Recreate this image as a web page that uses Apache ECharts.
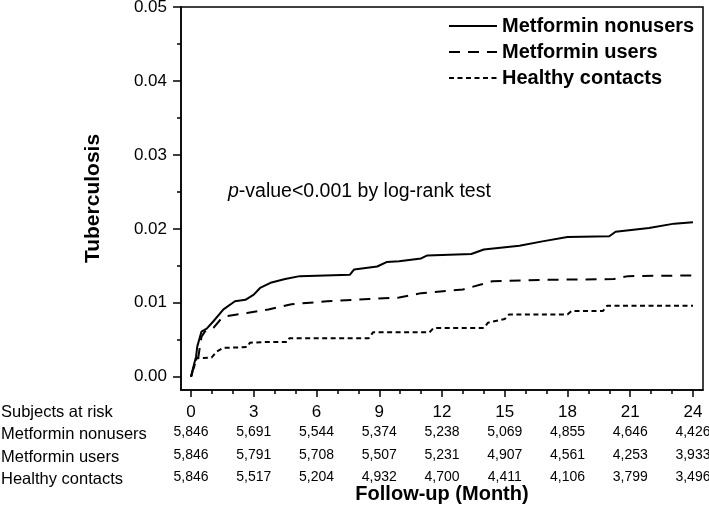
<!DOCTYPE html>
<html>
<head>
<meta charset="utf-8">
<script src="https://cdn.jsdelivr.net/npm/echarts@6/dist/echarts.min.js"></script>
<style>html,body{margin:0;padding:0;background:#fff}#c{width:709px;height:505px}</style>
</head>
<body>
<div id="c"></div>
<script>
// ---- data ----
const seriesNames = ['Metformin nonusers', 'Metformin users', 'Healthy contacts'];
const nonusersMonths = [0, 0.1, 0.24, 0.3, 0.5, 0.75, 1.07, 1.55, 2.1, 2.6, 3.0, 3.3, 3.8, 4.5, 5.2, 7.6, 7.8, 8.9, 9.35, 9.95, 11.0, 11.3, 13.4, 14.0, 15.7, 16.8, 18.0, 20.0, 20.3, 21.9, 23.1, 24.0];
const nonusersRisk   = [0, 0.0012, 0.0027, 0.0041, 0.0061, 0.0065, 0.0075, 0.0091, 0.0102, 0.0104, 0.0111, 0.0120, 0.0127, 0.0132, 0.0136, 0.0138, 0.0145, 0.0149, 0.0155, 0.0156, 0.0160, 0.0164, 0.0166, 0.0172, 0.0177, 0.0183, 0.0189, 0.0190, 0.0196, 0.0201, 0.0207, 0.0209];
const usersMonths = [0, 0.1, 0.35, 0.5, 0.66, 1.07, 1.4, 1.7, 2.67, 3.7, 4.8, 6.5, 8.5, 9.95, 11.0, 13.0, 13.9, 14.4, 16.8, 20.2, 20.9, 24.0];
const usersRisk   = [0, 0.0010, 0.0027, 0.0054, 0.0061, 0.0066, 0.0077, 0.0082, 0.0086, 0.0091, 0.0098, 0.0102, 0.0105, 0.0107, 0.0113, 0.0118, 0.0125, 0.0129, 0.0131, 0.0132, 0.0136, 0.0137];
const healthyMonths = [0, 0.27, 0.99, 1.23, 1.55, 2.67, 2.82, 3.7, 4.6, 4.7, 8.5, 8.7, 11.4, 11.6, 14.0, 14.2, 15.0, 15.2, 18.0, 18.2, 19.7, 19.9, 24.0];
const healthyRisk   = [0, 0.0025, 0.0026, 0.0034, 0.0039, 0.0040, 0.0046, 0.0047, 0.0047, 0.0052, 0.0052, 0.0060, 0.0060, 0.0066, 0.0066, 0.0073, 0.0078, 0.0084, 0.0084, 0.0089, 0.0089, 0.0096, 0.0096];

const tickMonths = [0, 3, 6, 9, 12, 15, 18, 21, 24];
const minorMonths = [0,1,2,3,4,5,6,7,8,9,10,11,12,13,14,15,16,17,18,19,20,21,22,23,24];
const yTicks = [0, 0.01, 0.02, 0.03, 0.04, 0.05];
const yMinorTicks = [0.005, 0.015, 0.025, 0.035, 0.045];
const atRiskNonusers = [5846, 5691, 5544, 5374, 5238, 5069, 4855, 4646, 4426];
const atRiskUsers    = [5846, 5791, 5708, 5507, 5231, 4907, 4561, 4253, 3933];
const atRiskHealthy  = [5846, 5517, 5204, 4932, 4700, 4411, 4106, 3799, 3496];
const rowLabels = ['Subjects at risk', 'Metformin nonusers', 'Metformin users', 'Healthy contacts'];

// ---- chart ----
const FONT = '"Liberation Sans", Arial, sans-serif';
const zip = (a, b) => a.map((v, i) => [v, b[i]]);
const fmt = n => n.toLocaleString('en-US');
const X_MIN = -0.48, X_MAX = 24.48;

function riskAxis(arr, margin) {
  return {
    type: 'value', min: X_MIN, max: X_MAX, position: 'bottom', gridIndex: 0,
    axisLine: { show: false }, axisTick: { show: false }, splitLine: { show: false },
    axisLabel: {
      customValues: tickMonths, margin: margin, color: '#000', fontFamily: FONT, fontSize: 14,
      formatter: v => { const i = tickMonths.indexOf(Math.round(v)); return i >= 0 ? fmt(arr[i]) : ''; }
    }
  };
}

const chart = echarts.init(document.getElementById('c'), null, { renderer: 'canvas' });
chart.setOption({
  animation: false,
  backgroundColor: '#fff',
  grid: { left: 181, right: 6, top: 7, bottom: 115, containLabel: false, outerBoundsMode: 'none',
          show: true, borderColor: '#000', borderWidth: 1.5, backgroundColor: 'transparent' },
  legend: {
    data: seriesNames, orient: 'vertical', left: 443, top: 11, itemWidth: 48, itemHeight: 14, itemGap: 6,
    textStyle: { fontFamily: FONT, fontSize: 20, fontWeight: 'bold', color: '#000' },
    itemStyle: { opacity: 0 }
  },
  xAxis: [
    {
      type: 'value', min: X_MIN, max: X_MAX, position: 'bottom',
      axisLine: { show: true, onZero: false, lineStyle: { color: '#000', width: 1.5 } },
      axisTick: { show: true, customValues: tickMonths, length: 7, lineStyle: { color: '#000', width: 1.5 } },
      axisLabel: { customValues: tickMonths, margin: 14, color: '#000', fontFamily: FONT, fontSize: 17 },
      splitLine: { show: false },
      name: 'Follow-up (Month)', nameLocation: 'middle', nameGap: 94,
      nameTextStyle: { fontFamily: FONT, fontSize: 20, fontWeight: 'bold', color: '#000' }
    },
    {
      type: 'value', min: X_MIN, max: X_MAX, position: 'bottom',
      axisLine: { show: false, onZero: false },
      axisTick: { show: true, customValues: minorMonths, length: 4, lineStyle: { color: '#000', width: 1.5 } },
      axisLabel: { show: false }, splitLine: { show: false }
    },
    riskAxis(atRiskNonusers, 35),
    riskAxis(atRiskUsers, 58),
    riskAxis(atRiskHealthy, 80)
  ],
  yAxis: [
    {
      type: 'value', min: -0.0018, max: 0.05, position: 'left',
      axisLine: { show: true, onZero: false, lineStyle: { color: '#000', width: 1.5 } },
      axisTick: { show: true, customValues: yTicks, length: 8, lineStyle: { color: '#000', width: 1.5 } },
      axisLabel: { customValues: yTicks, margin: 14, color: '#000', fontFamily: FONT, fontSize: 17, formatter: v => v.toFixed(2) },
      splitLine: { show: false },
      name: 'Tuberculosis', nameLocation: 'middle', nameGap: 77, nameRotate: 90,
      nameTextStyle: { fontFamily: FONT, fontSize: 21, fontWeight: 'bold', color: '#000' }
    },
    {
      type: 'value', min: -0.0018, max: 0.05, position: 'left',
      axisLine: { show: false, onZero: false },
      axisTick: { show: true, customValues: yMinorTicks, length: 4, lineStyle: { color: '#000', width: 1.5 } },
      axisLabel: { show: false }, splitLine: { show: false }
    }
  ],
  series: [
    { name: seriesNames[0], type: 'line', data: zip(nonusersMonths, nonusersRisk), showSymbol: false, symbol: 'none',
      lineStyle: { color: '#000', width: 2, type: 'solid' }, itemStyle: { color: '#000' } },
    { name: seriesNames[1], type: 'line', data: zip(usersMonths, usersRisk), showSymbol: false, symbol: 'none',
      lineStyle: { color: '#000', width: 2, type: [11, 8] }, itemStyle: { color: '#000' } },
    { name: seriesNames[2], type: 'line', data: zip(healthyMonths, healthyRisk), showSymbol: false, symbol: 'none',
      lineStyle: { color: '#000', width: 2, type: [5, 3.5] }, itemStyle: { color: '#000' } }
  ],
  graphic: [
    { type: 'text', left: 228, top: 182, style: {
        text: '{i|p}-value<0.001 by log-rank test',
        font: '19.5px ' + FONT, fill: '#000',
        rich: { i: { fontStyle: 'italic', fontSize: 19.5, fontFamily: FONT, fill: '#000' } }
      } },
    { type: 'text', left: 1, top: 404, style: { text: rowLabels[0], font: '16.5px ' + FONT, fill: '#000' } },
    { type: 'text', left: 1, top: 426, style: { text: rowLabels[1], font: '16.5px ' + FONT, fill: '#000' } },
    { type: 'text', left: 1, top: 449, style: { text: rowLabels[2], font: '16.5px ' + FONT, fill: '#000' } },
    { type: 'text', left: 1, top: 471, style: { text: rowLabels[3], font: '16.5px ' + FONT, fill: '#000' } }
  ]
});
</script>
</body>
</html>
